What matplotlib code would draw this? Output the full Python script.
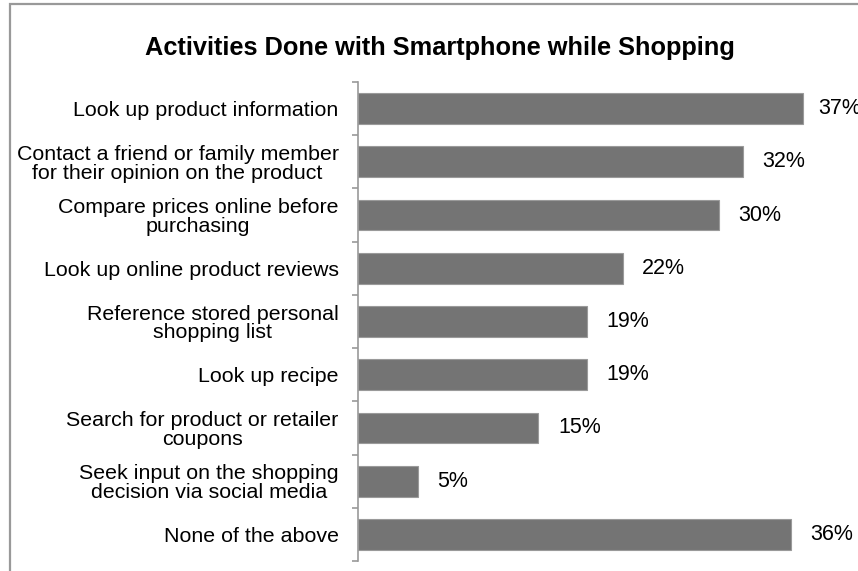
import matplotlib
matplotlib.use("Agg")
import matplotlib.pyplot as plt
from matplotlib.patches import Rectangle

plt.rcParams['font.family'] = ['Liberation Sans', 'DejaVu Sans']

title = "Activities Done with Smartphone while Shopping"
categories = [
    "Look up product information",
    "Contact a friend or family member\nfor their opinion on the product",
    "Compare prices online before\npurchasing",
    "Look up online product reviews",
    "Reference stored personal\nshopping list",
    "Look up recipe",
    "Search for product or retailer\ncoupons",
    "Seek input on the shopping\ndecision via social media",
    "None of the above",
]
values = [37, 32, 30, 22, 19, 19, 15, 5, 36]

W, H = 858, 571
fig = plt.figure(figsize=(W / 100, H / 100), dpi=100)
fig.patch.set_facecolor("white")

# outer frame of the chart area (only top and left edges fall inside the canvas)
fig.add_artist(Rectangle((9.5 / W, -0.05), 1.2, 1 - 4.5 / H + 0.05,
                         transform=fig.transFigure, fill=False,
                         edgecolor="#999999", linewidth=1.6))

x0, x1 = 358, 858
y_top, y_bot = 82, 561
ax = fig.add_axes([x0 / W, 1 - y_bot / H, (x1 - x0) / W, (y_bot - y_top) / H])
px_per_unit = 12.03
ax.set_xlim(0, (x1 - x0) / px_per_unit)
n = len(categories)
ax.set_ylim(n - 0.5, -0.5)

pos = list(range(n))
ax.barh(pos, values, height=0.58, color="#747474", edgecolor="#9a9a9a", linewidth=0.8)

for p, v in zip(pos, values):
    # labels near the right edge are nudged inward a little
    dx = 11 if v == max(values) else 14
    ax.annotate(f"{v}%", xy=(v, p), xytext=(dx, 0), textcoords="offset points",
                ha="left", va="center", fontsize=15.5, color="black",
                annotation_clip=False)

for s in ["top", "right", "bottom"]:
    ax.spines[s].set_visible(False)
ax.spines["left"].set_color("#999999")
ax.spines["left"].set_linewidth(1.2)
ax.set_xticks([])
ax.set_yticks(pos)
ax.set_yticklabels(categories, fontsize=15.4, multialignment="center", linespacing=1.0)
ax.tick_params(axis="y", which="major", length=0, pad=14)
ax.set_yticks([i - 0.5 for i in range(n + 1)], minor=True)
ax.tick_params(axis="y", which="minor", length=4, width=1.2, color="#999999")

fig.text(440 / W, 1 - 48 / H, title, ha="center", va="center",
         fontsize=18.3, fontweight="bold")

fig.savefig("out.png", dpi=100)
